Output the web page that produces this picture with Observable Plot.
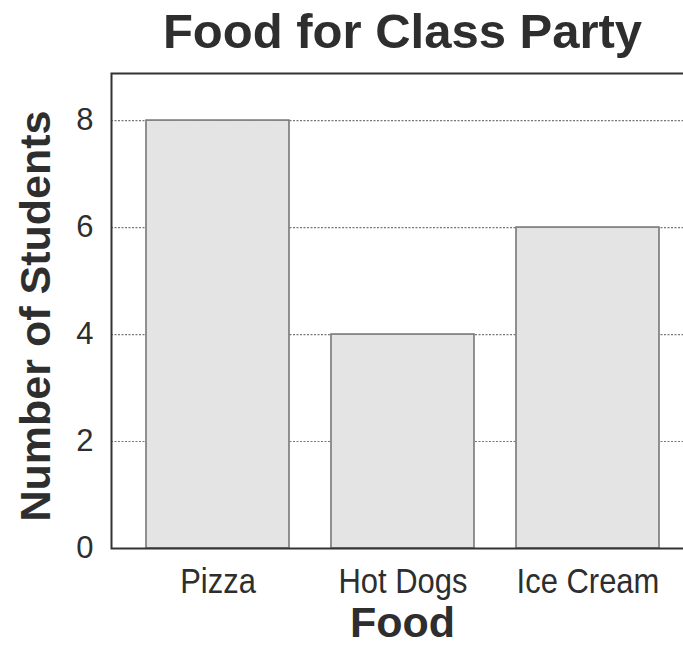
<!DOCTYPE html>
<html><head><meta charset="utf-8">
<script src="https://cdn.jsdelivr.net/npm/d3@7"></script>
<script src="https://cdn.jsdelivr.net/npm/@observablehq/plot@0.6"></script>
<style>body{margin:0;background:#fff;overflow:hidden} #chart svg{display:block}</style>
</head><body><div id="chart"></div>
<script>
const foods = ["Pizza", "Hot Dogs", "Ice Cream"];
const students = [8, 4, 6];
const yTicks = [0, 2, 4, 6, 8];
const title = "Food for Class Party";
const xLabel = "Food";
const yLabel = "Number of Students";

const data = foods.map((f, i) => ({food: f, n: students[i]}));
const ink = "#2e2e2e";

const chart = Plot.plot({
  width: 683, height: 645,
  marginLeft: 111, marginRight: -10, marginTop: 73, marginBottom: 97,
  style: {fontFamily: "'Liberation Sans', Arial, sans-serif", color: ink, background: "#fff", overflow: "hidden"},
  x: {domain: foods, paddingInner: 0.229, paddingOuter: 0.183},
  y: {domain: [0, 8.88]},
  marks: [
    Plot.gridY(yTicks.slice(1), {stroke: "#777", strokeOpacity: 1, strokeDasharray: "2,1.5", strokeWidth: 1.2}),
    Plot.barY(data, {x: "food", y: "n", fill: "#e4e4e4", stroke: "#777", strokeWidth: 1.6}),
    Plot.axisY({ticks: yTicks, tickSize: 0, tickPadding: 18, fontSize: 31, label: null, fill: ink}),
    Plot.axisX({tickSize: 0, tickPadding: 19, fontSize: 36, label: null, fill: ink}),
    Plot.frame({stroke: "#333", strokeWidth: 2}),
    Plot.text([title], {text: d => d, frameAnchor: "top", lineAnchor: "bottom", dy: -26, fontSize: 49, fontWeight: "bold", fill: ink}),
    Plot.text([xLabel], {text: d => d, frameAnchor: "bottom", lineAnchor: "bottom", dy: 88, fontSize: 43, fontWeight: "bold", fill: ink}),
    Plot.text([yLabel], {text: d => d, frameAnchor: "left", textAnchor: "middle", rotate: -90, dx: -75, dy: 5, fontSize: 43, fontWeight: "bold", fill: ink})
  ]
});
// condense the x tick labels horizontally, like the narrow face of the reference
d3.select(chart).selectAll("g[aria-label='x-axis tick label'] text").each(function() {
  const t = this.getAttribute("transform") || "";
  this.setAttribute("transform", t + " scale(0.86,1)");
});
document.getElementById("chart").append(chart);
</script>
</body></html>
